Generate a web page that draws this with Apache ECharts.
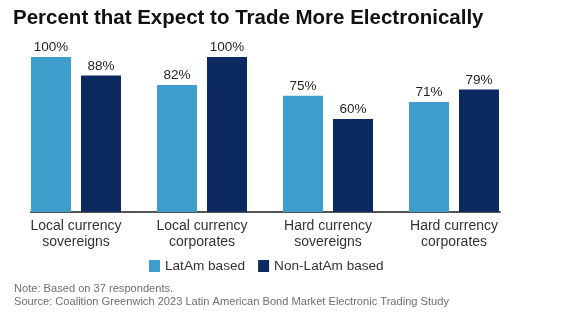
<!DOCTYPE html>
<html>
<head>
<meta charset="utf-8">
<script src="https://cdn.jsdelivr.net/npm/echarts@6/dist/echarts.min.js"></script>
<style>
  html, body { margin: 0; padding: 0; background: #ffffff; }
  #chart { width: 562px; height: 327px; }
</style>
</head>
<body>
<div id="chart"></div>
<script>
// Survey shares by bond segment and respondent location
const categories = ['Local currency\nsovereigns', 'Local currency\ncorporates', 'Hard currency\nsovereigns', 'Hard currency\ncorporates'];
const latAmBased = [100, 82, 75, 71];
const nonLatAmBased = [88, 100, 60, 79];
const seriesNames = ['LatAm based', 'Non-LatAm based'];
const titleText = 'Percent that Expect to Trade More Electronically';
const noteText = 'Note: Based on 37 respondents.\nSource: Coalition Greenwich 2023 Latin American Bond Market Electronic Trading Study';

const FONT = '"Liberation Sans", Arial, sans-serif';
const LIGHT = '#3d9ecb';
const DARK = '#0c2a5f';

const chart = echarts.init(document.getElementById('chart'), null, { renderer: 'canvas' });

const valueLabel = {
  show: true,
  position: 'top',
  distance: 2.5,
  formatter: p => p.value + '%',
  fontFamily: FONT,
  fontSize: 13.5,
  color: '#1e1e1e'
};

chart.setOption({
  animation: false,
  backgroundColor: '#ffffff',
  textStyle: { fontFamily: FONT },
  title: [
    {
      text: titleText,
      left: 13,
      top: 8,
      padding: 0,
      textStyle: { fontFamily: FONT, fontSize: 20.5, fontWeight: 'bold', color: '#111' }
    },
    {
      text: noteText,
      left: 14,
      top: 283,
      padding: 0,
      textStyle: { fontFamily: FONT, fontSize: 11.1, fontWeight: 'normal', color: '#6e6e6e', lineHeight: 12.5 }
    }
  ],
  legend: {
    data: seriesNames,
    left: 149,
    top: 259,
    padding: 0,
    itemWidth: 11,
    itemHeight: 12,
    itemGap: 13,
    icon: 'rect',
    textStyle: { fontFamily: FONT, fontSize: 13.6, color: '#333' }
  },
  grid: [
    // bars and category labels
    { left: 13, right: 45, top: 57, bottom: 115, containLabel: false },
    // baseline spanning the bars
    { left: 31, right: 62, top: 57, bottom: 115, containLabel: false }
  ],
  xAxis: [
    {
      type: 'category',
      gridIndex: 0,
      data: categories,
      axisLine: { show: false },
      axisTick: { show: false },
      axisLabel: { margin: 6, fontFamily: FONT, fontSize: 14, color: '#333', lineHeight: 16 }
    },
    {
      type: 'category',
      gridIndex: 1,
      data: [''],
      axisLine: { show: true, lineStyle: { color: '#555', width: 2 } },
      axisTick: { show: false },
      axisLabel: { show: false }
    }
  ],
  yAxis: [
    { type: 'value', gridIndex: 0, min: 0, max: 100, show: false, splitLine: { show: false } },
    { type: 'value', gridIndex: 1, min: 0, max: 100, show: false, splitLine: { show: false } }
  ],
  series: [
    {
      name: seriesNames[0],
      type: 'bar',
      xAxisIndex: 0,
      yAxisIndex: 0,
      data: latAmBased,
      barWidth: 40,
      barGap: '25%',
      itemStyle: { color: LIGHT },
      label: valueLabel
    },
    {
      name: seriesNames[1],
      type: 'bar',
      xAxisIndex: 0,
      yAxisIndex: 0,
      data: nonLatAmBased,
      barWidth: 40,
      barGap: '25%',
      itemStyle: { color: DARK },
      label: valueLabel
    }
  ]
});
</script>
</body>
</html>
